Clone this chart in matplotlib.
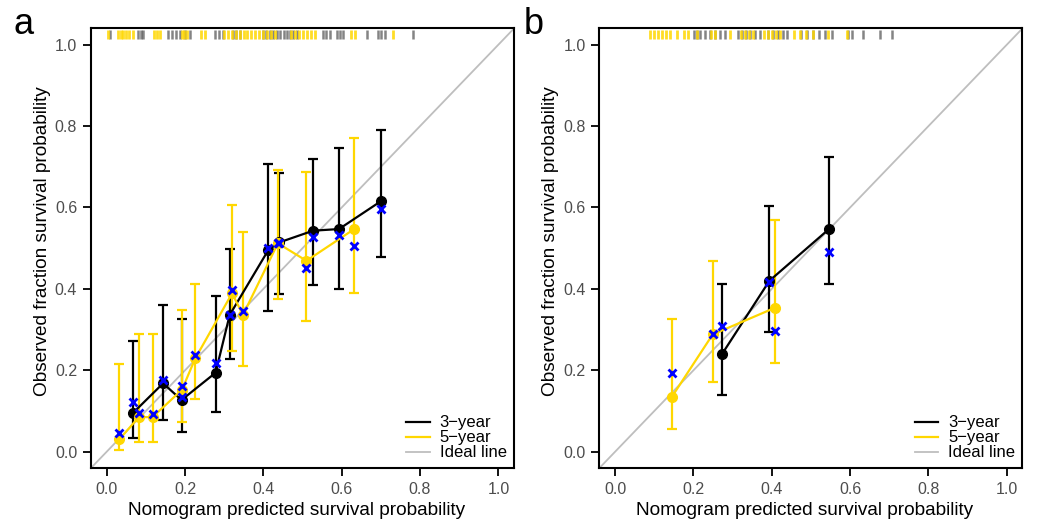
import numpy as np
import matplotlib.pyplot as plt
from matplotlib.lines import Line2D

plt.rcParams['font.family'] = ['Liberation Sans', 'DejaVu Sans']

# panel a: 3-year cohort groups
a3_pred = [0.068, 0.144, 0.191, 0.278, 0.314, 0.413, 0.440, 0.527, 0.593, 0.701]
a3_obs = [0.096, 0.168, 0.127, 0.194, 0.336, 0.496, 0.514, 0.543, 0.547, 0.616]
a3_lo = [0.034, 0.078, 0.049, 0.098, 0.227, 0.346, 0.387, 0.410, 0.400, 0.479]
a3_hi = [0.272, 0.360, 0.326, 0.383, 0.497, 0.706, 0.684, 0.718, 0.747, 0.790]
a3_corr = [0.121, 0.176, 0.135, 0.217, 0.336, 0.501, 0.512, 0.527, 0.532, 0.596]

# panel a: 5-year
a5_pred = [0.032, 0.082, 0.117, 0.192, 0.226, 0.320, 0.348, 0.437, 0.510, 0.632]
a5_obs = [0.030, 0.085, 0.085, 0.152, 0.229, 0.389, 0.336, 0.512, 0.469, 0.547]
a5_lo = [0.004, 0.024, 0.024, 0.074, 0.129, 0.248, 0.211, 0.375, 0.321, 0.389]
a5_hi = [0.215, 0.290, 0.290, 0.348, 0.412, 0.607, 0.539, 0.692, 0.686, 0.770]
a5_corr = [0.045, 0.094, 0.092, 0.161, 0.237, 0.397, 0.345, 0.512, 0.451, 0.505]

# panel b
b3_pred = [0.273, 0.394, 0.546]
b3_obs = [0.240, 0.420, 0.547]
b3_lo = [0.140, 0.293, 0.412]
b3_hi = [0.412, 0.604, 0.724]
b3_corr = [0.309, 0.418, 0.491]

b5_pred = [0.145, 0.249, 0.409]
b5_obs = [0.135, 0.288, 0.354]
b5_lo = [0.056, 0.171, 0.219]
b5_hi = [0.326, 0.469, 0.570]
b5_corr = [0.193, 0.288, 0.297]

# rug of predicted probabilities (top of each panel)
a3_rug = [0.008, 0.080, 0.088, 0.093, 0.156, 0.167, 0.177, 0.187, 0.200, 0.213,
          0.276, 0.287, 0.297, 0.322, 0.330, 0.340, 0.399, 0.407, 0.417, 0.425,
          0.435, 0.442, 0.453, 0.460, 0.468, 0.476, 0.486, 0.552, 0.560, 0.570,
          0.588, 0.596, 0.603, 0.665, 0.693, 0.700, 0.710, 0.782]
a5_rug = [0.003, 0.029, 0.037, 0.042, 0.049, 0.057, 0.067, 0.121, 0.128, 0.136,
          0.191, 0.197, 0.205, 0.241, 0.251, 0.299, 0.310, 0.320, 0.330, 0.340,
          0.351, 0.358, 0.368, 0.379, 0.389, 0.399, 0.410, 0.420, 0.430, 0.471,
          0.481, 0.491, 0.501, 0.511, 0.521, 0.532, 0.623, 0.634, 0.731]
b3_rug = [0.202, 0.209, 0.217, 0.230, 0.243, 0.255, 0.268, 0.281, 0.314, 0.324,
          0.334, 0.345, 0.357, 0.370, 0.391, 0.403, 0.416, 0.429, 0.439, 0.475,
          0.490, 0.505, 0.521, 0.536, 0.554, 0.595, 0.605, 0.633, 0.677, 0.707]
b5_rug = [0.089, 0.100, 0.110, 0.120, 0.130, 0.140, 0.158, 0.176, 0.186, 0.209,
          0.245, 0.255, 0.294, 0.322, 0.332, 0.342, 0.352, 0.380, 0.391, 0.401,
          0.411, 0.421, 0.457, 0.472, 0.488, 0.505, 0.544, 0.592]

ticks = [0.0, 0.2, 0.4, 0.6, 0.8, 1.0]
tick_labels = ['0.0', '0.2', '0.4', '0.6', '0.8', '1.0']

BLACK = 'black'
GOLD = '#FFD700'
BLUE = '#0000FF'
IDEAL = '#BEBEBE'


def draw_series(ax, pred, obs, lo, hi, corr, color):
    obs = np.array(obs)
    yerr = [obs - np.array(lo), np.array(hi) - obs]
    ax.errorbar(pred, obs, yerr=yerr, fmt='none', ecolor=color, elinewidth=1.6,
                capsize=3.5, capthick=1.6, zorder=3)
    ax.plot(pred, obs, color=color, lw=1.6, marker='o', markersize=7, zorder=4)
    ax.plot(pred, corr, ls='none', marker='x', color=BLUE, markersize=5.5,
            markeredgewidth=2, zorder=6)


def panel(ax, s3, s5, r3, r5):
    ax.set_xlim(-0.04, 1.04)
    ax.set_ylim(-0.04, 1.04)
    ax.plot([-0.04, 1.04], [-0.04, 1.04], color=IDEAL, lw=1.3, zorder=1)
    tr = ax.get_xaxis_transform()
    ax.vlines(r3, 0.976, 0.996, colors='#333333', lw=1.8, alpha=0.6, transform=tr, zorder=2)
    ax.vlines(r5, 0.976, 0.996, colors=GOLD, lw=2.0, alpha=0.85, transform=tr, zorder=2)
    draw_series(ax, *s3, BLACK)
    draw_series(ax, *s5, GOLD)

    ax.set_xticks(ticks)
    ax.set_xticklabels(tick_labels)
    ax.set_yticks(ticks)
    ax.set_yticklabels(tick_labels)
    ax.tick_params(direction='out', length=6, width=1.3, labelsize=11.5,
                   labelcolor='#4D4D4D', pad=4)
    for sp in ax.spines.values():
        sp.set_linewidth(1.5)
    ax.set_xlabel('Nomogram predicted survival probability', fontsize=13.7)
    ax.set_ylabel('Observed fraction survival probability', fontsize=13.7)
    ax.xaxis.set_label_coords(0.485, -0.078)
    ax.yaxis.set_label_coords(-0.095, 0.515)

    handles = [Line2D([], [], color=BLACK, lw=1.6),
               Line2D([], [], color=GOLD, lw=1.6),
               Line2D([], [], color=IDEAL, lw=1.3)]
    ax.legend(handles, ['3\u2212year', '5\u2212year', 'Ideal line'], loc='lower right',
              frameon=False, fontsize=12, handlelength=1.4, handletextpad=0.6,
              labelspacing=0.0, borderaxespad=0.05)


fig = plt.figure(figsize=(10.44, 5.19), dpi=100)
ax_a = fig.add_axes([0.0872, 0.0983, 0.4052, 0.847])
ax_b = fig.add_axes([0.5742, 0.0983, 0.4052, 0.847])

panel(ax_a, (a3_pred, a3_obs, a3_lo, a3_hi, a3_corr),
      (a5_pred, a5_obs, a5_lo, a5_hi, a5_corr), a3_rug, a5_rug)
panel(ax_b, (b3_pred, b3_obs, b3_lo, b3_hi, b3_corr),
      (b5_pred, b5_obs, b5_lo, b5_hi, b5_corr), b3_rug, b5_rug)

fig.text(0.013, 0.952, 'a', fontsize=26, va='center', ha='left')
fig.text(0.502, 0.952, 'b', fontsize=26, va='center', ha='left')

fig.savefig('out.png', dpi=100)
